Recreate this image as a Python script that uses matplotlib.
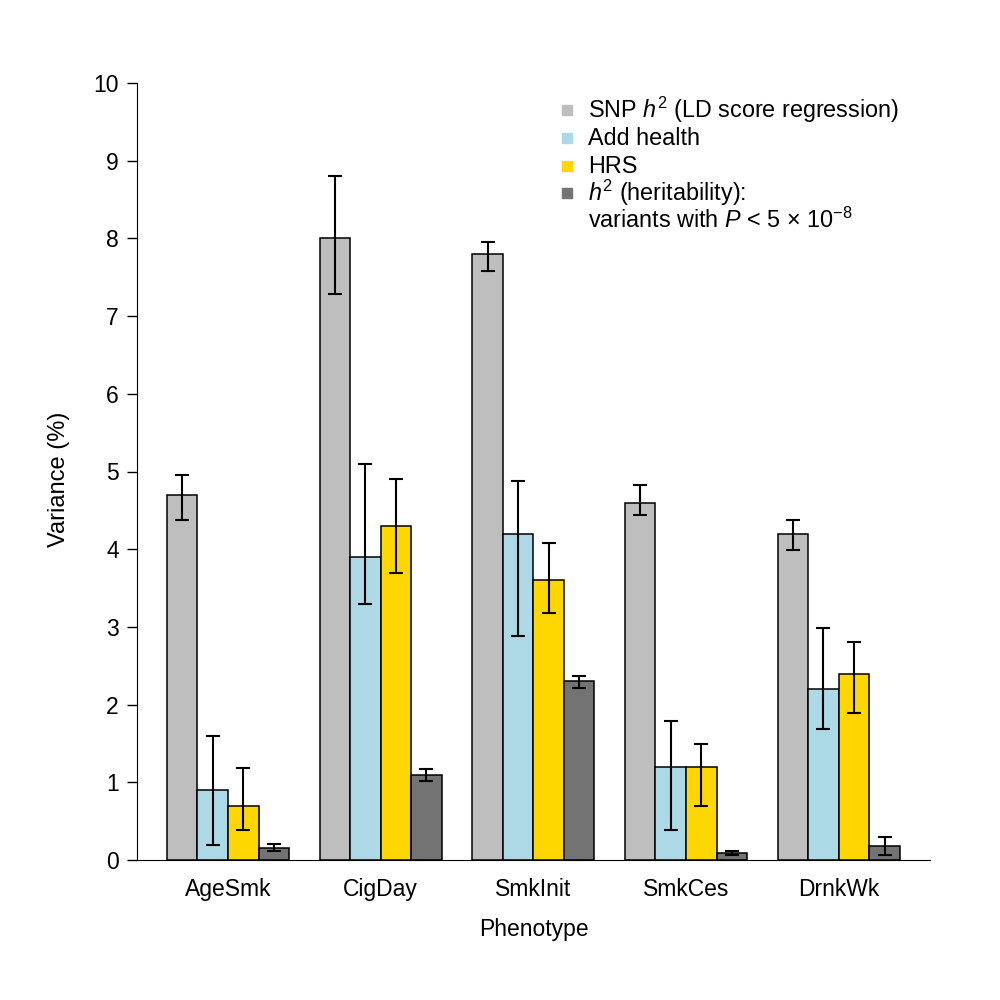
import numpy as np
import matplotlib
matplotlib.use("Agg")
import matplotlib.pyplot as plt

plt.rcParams["font.family"] = ["Liberation Sans", "DejaVu Sans"]
plt.rcParams["mathtext.fontset"] = "custom"
plt.rcParams["mathtext.rm"] = "Liberation Sans"
plt.rcParams["mathtext.it"] = "Liberation Sans:italic"

# -------------------------
# Data
# -------------------------
phenotypes = ["AgeSmk", "CigDay", "SmkInit", "SmkCes", "DrnkWk"]

snp_h2 = [4.7, 8.0, 7.8, 4.6, 4.2]
snp_lo = [4.38, 7.28, 7.58, 4.44, 3.99]
snp_hi = [4.96, 8.80, 7.95, 4.83, 4.37]

add_health = [0.9, 3.9, 4.2, 1.2, 2.2]
add_lo = [0.19, 3.30, 2.88, 0.39, 1.69]
add_hi = [1.60, 5.10, 4.88, 1.79, 2.99]

hrs = [0.7, 4.3, 3.6, 1.2, 2.4]
hrs_lo = [0.39, 3.70, 3.18, 0.69, 1.89]
hrs_hi = [1.19, 4.90, 4.08, 1.49, 2.80]

gw_h2 = [0.16, 1.09, 2.30, 0.094, 0.18]
gw_lo = [0.12, 1.02, 2.21, 0.07, 0.06]
gw_hi = [0.21, 1.17, 2.37, 0.12, 0.30]

series = [
    (snp_h2, snp_lo, snp_hi, "#BEBEBE"),
    (add_health, add_lo, add_hi, "#ADD8E6"),
    (hrs, hrs_lo, hrs_hi, "#FFD700"),
    (gw_h2, gw_lo, gw_hi, "#737373"),
]
legend_labels = [
    ["SNP $h^2$ (LD score regression)"],
    ["Add health"],
    ["HRS"],
    ["$h^2$ (heritability):", "variants with $P$ < 5 × 10$^{-8}$"],
]

FS = 16.5

# -------------------------
# Plot
# -------------------------
fig = plt.figure(figsize=(10, 10), dpi=100)
ax = fig.add_axes([0.137, 0.14, 0.793, 0.777])

x = np.arange(len(phenotypes))
w = 0.2
for k, (vals, lo, hi, col) in enumerate(series):
    pos = x + (k - 1.5) * w
    vals = np.array(vals)
    yerr = np.vstack([vals - np.array(lo), np.array(hi) - vals])
    ax.bar(pos, vals, width=w, color=col, edgecolor="black", linewidth=1.1, zorder=2)
    ax.errorbar(pos, vals, yerr=yerr, fmt="none", ecolor="black",
                elinewidth=1.5, capsize=5, capthick=1.5, zorder=3)

ax.set_xlim(-0.596, 4.598)
ax.set_ylim(0, 10)
ax.set_yticks(range(0, 11))
ax.set_xticks(x)
ax.set_xticklabels(phenotypes, fontsize=FS)
ax.tick_params(axis="x", length=0, pad=13)
ax.tick_params(axis="y", labelsize=FS, length=7, width=1, pad=6)

for s in ["top", "right"]:
    ax.spines[s].set_visible(False)
ax.spines["left"].set_bounds(0, 10)

ax.set_ylabel("Variance (%)", fontsize=FS + 0.5)
ax.yaxis.set_label_coords(-0.084, 0.49)
ax.set_xlabel("Phenotype", fontsize=FS, labelpad=12)

# legend drawn by hand (no frame, marker aligned with first text line)
mx, tx = 0.542, 0.569
ys = [0.965, 0.929, 0.893, 0.858]
line_step = 0.0347
for (vals, lo, hi, col), lines, yy in zip(series, legend_labels, ys):
    ax.plot([mx], [yy], marker="s", markersize=7.5, color=col, linestyle="none",
            transform=ax.transAxes, clip_on=False)
    for j, txt in enumerate(lines):
        ax.text(tx, yy - j * line_step, txt, transform=ax.transAxes, fontsize=16.8,
                va="center", ha="left")

fig.savefig("out.png", dpi=100)
